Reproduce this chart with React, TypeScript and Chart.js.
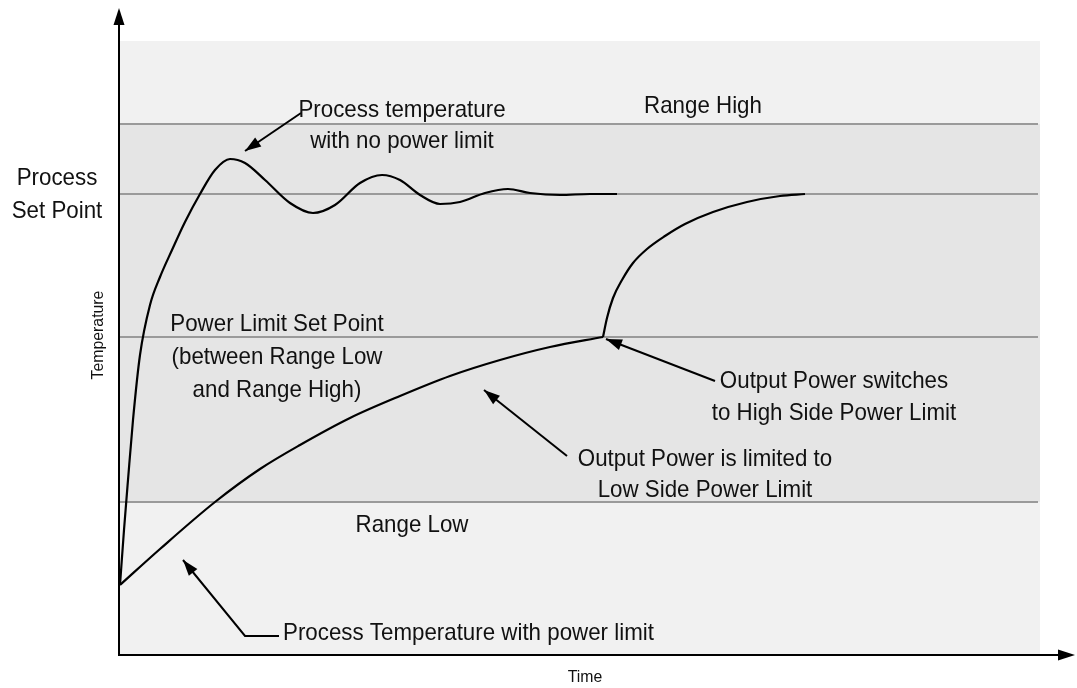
import React, { useEffect, useRef } from "react";
import { Chart, registerables } from "chart.js";

Chart.register(...registerables);

// ---- data (time units, temperature units) ----
const noLimitTime = [0, 0.4, 0.8, 1.3, 2.0, 3.0, 4.0, 5.2, 6.5, 8.0, 9.5, 11.0, 12.5, 14.5, 17.0, 19.3, 21.5, 24.0, 26.2, 28.0, 30.0, 32.0, 34.0, 36.5, 38.8, 41.0, 44.0, 47.0, 49.7];
const noLimitTemp = [7.0, 12.5, 17.5, 23.5, 30.0, 35.0, 37.8, 40.5, 43.3, 46.1, 48.5, 49.6, 49.2, 47.5, 45.2, 44.2, 45.0, 47.2, 48.0, 47.5, 46.0, 45.1, 45.3, 46.2, 46.6, 46.2, 46.0, 46.1, 46.1];

const limitedTime = [0, 4.0, 9.5, 14.0, 18.0, 23.0, 28.0, 33.0, 38.0, 43.0, 48.3];
const limitedTemp = [7.0, 10.6, 15.3, 18.6, 21.0, 23.7, 25.9, 27.9, 29.5, 30.8, 31.8];

const switchedTime = [48.3, 48.7, 49.3, 50.2, 51.3, 52.7, 54.5, 56.5, 59.3, 62.7, 66.0, 68.5];
const switchedTemp = [31.8, 33.7, 35.7, 37.5, 39.2, 40.6, 41.9, 43.1, 44.3, 45.3, 45.9, 46.1];

const levelNames = ["Range High", "Process Set Point", "Power Limit Set Point", "Range Low"];
const levelValues = [53.1, 46.1, 31.8, 15.3];
const levelSpan = [0, 91.8];

const timeRange = [0, 92];
const tempRange = [0, 61.4];

const FONT = '"Liberation Sans", Arial, sans-serif';
const SQUEEZE = 0.93;

function pts(xs: number[], ys: number[]) {
  return xs.map((x, i) => ({ x, y: ys[i] }));
}

function drawText(ctx: CanvasRenderingContext2D, s: string, x: number, y: number, align: CanvasTextAlign = "center", size = 24) {
  ctx.save();
  ctx.translate(x, y);
  ctx.scale(SQUEEZE, 1);
  ctx.font = `${size}px ${FONT}`;
  ctx.textAlign = align;
  ctx.textBaseline = "alphabetic";
  ctx.fillStyle = "#111";
  ctx.fillText(s, 0, 0);
  ctx.restore();
}

function arrowHead(ctx: CanvasRenderingContext2D, fx: number, fy: number, tx: number, ty: number, len = 16, hw = 5.5) {
  const a = Math.atan2(ty - fy, tx - fx);
  const bx = tx - len * Math.cos(a);
  const by = ty - len * Math.sin(a);
  ctx.beginPath();
  ctx.moveTo(tx, ty);
  ctx.lineTo(bx + hw * Math.sin(a), by - hw * Math.cos(a));
  ctx.lineTo(bx - hw * Math.sin(a), by + hw * Math.cos(a));
  ctx.closePath();
  ctx.fill();
}

function leader(ctx: CanvasRenderingContext2D, path: number[][]) {
  ctx.beginPath();
  ctx.moveTo(path[0][0], path[0][1]);
  for (let i = 1; i < path.length; i++) ctx.lineTo(path[i][0], path[i][1]);
  ctx.stroke();
  const n = path.length;
  arrowHead(ctx, path[n - 2][0], path[n - 2][1], path[n - 1][0], path[n - 1][1]);
}

const decor = {
  id: "decor",
  beforeDatasetsDraw(chart: any) {
    const { ctx, chartArea: a, scales } = chart;
    const y = scales.y;
    ctx.save();
    ctx.fillStyle = "#f1f1f1";
    ctx.fillRect(a.left, a.top, a.right - a.left, a.bottom - a.top);
    const yHigh = y.getPixelForValue(levelValues[0]);
    const yLow = y.getPixelForValue(levelValues[3]);
    ctx.fillStyle = "#e5e5e5";
    ctx.fillRect(a.left, yHigh, a.right - a.left, yLow - yHigh);
    ctx.restore();
  },
  afterDraw(chart: any) {
    const { ctx, chartArea: a } = chart;
    ctx.save();
    ctx.strokeStyle = "#000";
    ctx.fillStyle = "#000";
    ctx.lineWidth = 2;
    // axes
    ctx.beginPath();
    ctx.moveTo(a.left - 1, a.bottom);
    ctx.lineTo(a.left - 1, 20);
    ctx.stroke();
    arrowHead(ctx, a.left - 1, 40, a.left - 1, 8, 17, 5.5);
    ctx.beginPath();
    ctx.moveTo(a.left - 2, a.bottom);
    ctx.lineTo(1062, a.bottom);
    ctx.stroke();
    arrowHead(ctx, 1040, a.bottom, 1075, a.bottom, 17, 5.5);

    // leaders
    ctx.lineWidth = 2;
    leader(ctx, [[301, 113], [245, 151]]);
    leader(ctx, [[715, 381], [606, 339]]);
    leader(ctx, [[567, 456], [484, 390]]);
    leader(ctx, [[279, 636], [245, 636], [183, 560]]);

    // texts
    drawText(ctx, "Process", 57, 185);
    drawText(ctx, "Set Point", 57, 218);
    drawText(ctx, "Range High", 703, 113);
    drawText(ctx, "Process temperature", 402, 117);
    drawText(ctx, "with no power limit", 402, 148);
    drawText(ctx, "Power Limit Set Point", 277, 331);
    drawText(ctx, "(between Range Low", 277, 364);
    drawText(ctx, "and Range High)", 277, 397);
    drawText(ctx, "Output Power switches", 834, 388);
    drawText(ctx, "to High Side Power Limit", 834, 420);
    drawText(ctx, "Output Power is limited to", 705, 466);
    drawText(ctx, "Low Side Power Limit", 705, 497);
    drawText(ctx, "Range Low", 412, 532);
    drawText(ctx, "Process Temperature with power limit", 283, 640, "left");
    drawText(ctx, "Time", 585, 682, "center", 17);

    ctx.save();
    ctx.translate(103, 335);
    ctx.rotate(-Math.PI / 2);
    drawText(ctx, "Temperature", 0, 0, "center", 17);
    ctx.restore();

    ctx.restore();
  },
};

export default function App() {
  const ref = useRef<HTMLCanvasElement>(null);
  useEffect(() => {
    if (!ref.current) return;
    const curve = { borderColor: "#000", borderWidth: 2.2, pointRadius: 0, fill: false, cubicInterpolationMode: "monotone" as const, order: 0 };
    const refLine = { borderColor: "#9a9a9a", borderWidth: 2, pointRadius: 0, fill: false, tension: 0, order: 1 };
    const chart = new Chart(ref.current, {
      type: "line",
      data: {
        datasets: [
          { label: "Process temperature with no power limit", data: pts(noLimitTime, noLimitTemp), ...curve },
          { label: "Process Temperature with power limit", data: pts(limitedTime, limitedTemp), ...curve },
          { label: "After switch to High Side Power Limit", data: pts(switchedTime, switchedTemp), ...curve },
          ...levelValues.map((v, i) => ({
            label: levelNames[i],
            data: pts(levelSpan, [v, v]),
            ...refLine,
          })),
        ],
      },
      options: {
        responsive: false,
        animation: false,
        layout: { padding: { left: 120, top: 41, right: 37, bottom: 33 } },
        plugins: { legend: { display: false }, tooltip: { enabled: false } },
        scales: {
          x: { type: "linear", min: timeRange[0], max: timeRange[1], display: false },
          y: { type: "linear", min: tempRange[0], max: tempRange[1], display: false },
        },
      },
      plugins: [decor],
    });
    return () => chart.destroy();
  }, []);
  return (
    <div style={{ position: "absolute", left: 0, top: 0, width: 1077, height: 688, background: "#fff" }}>
      <canvas ref={ref} width={1077} height={688} style={{ display: "block" }} />
    </div>
  );
}
